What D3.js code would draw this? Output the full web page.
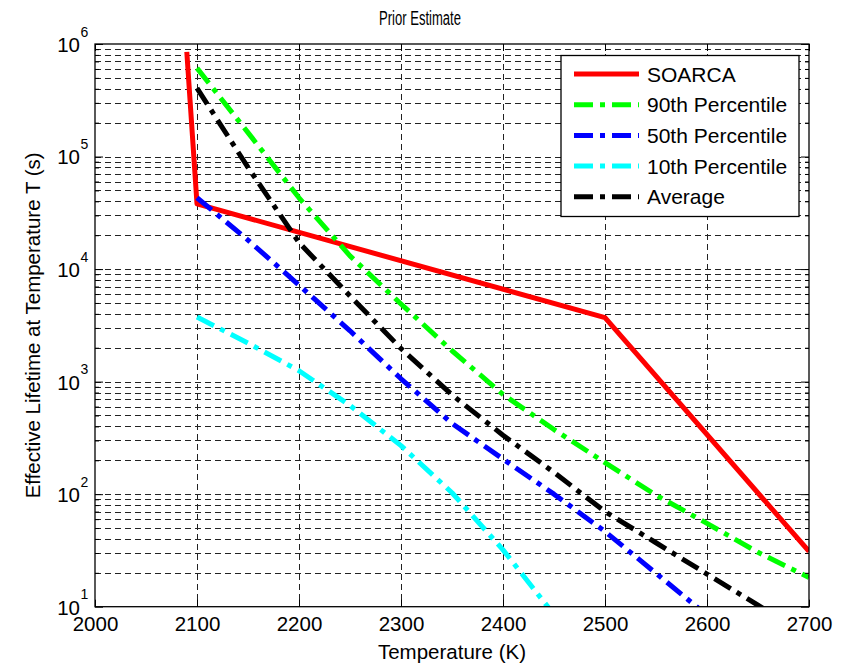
<!DOCTYPE html>
<html><head><meta charset="utf-8">
<script src="https://cdn.jsdelivr.net/npm/d3@7"></script>
<style>
body{margin:0;background:#fff;}
svg{display:block;font-family:"Liberation Sans",Arial,sans-serif;}
</style></head>
<body><svg id="c" width="841" height="667"></svg>
<script>
// ---- data ----
const xTicks = [2000, 2100, 2200, 2300, 2400, 2500, 2600, 2700];
const yExponents = [1, 2, 3, 4, 5, 6];
const soarcaT = [2090, 2100, 2500, 2700];
const soarcaV = [8.5e5, 3.8e4, 3.7e3, 31];
const pctT = [2100, 2150, 2200, 2250, 2300, 2350, 2400, 2450, 2500, 2550, 2600, 2650, 2700];
const p90 = [6.1e5, 1.63e5, 4.3e4, 1.31e4, 4.9e3, 1.88e3, 770, 375, 191, 98, 55, 30.4, 18.2];
const p50 = [4.3e4, 1.81e4, 7.2e3, 2.83e3, 1.06e3, 425, 205, 100, 46.6, 19.8, 8.4];
const p10 = [3750, 2200, 1250, 614, 270, 103, 32, 8.5];
const avg = [4.06e5, 8.0e4, 1.72e4, 5.77e3, 1.97e3, 762, 334, 156, 70, 37, 19.5, 10.3, 5.5];
const seriesNames = ["SOARCA", "90th Percentile", "50th Percentile", "10th Percentile", "Average"];
const seriesColors = ["#ff0000", "#00ff00", "#0000ff", "#00ffff", "#000000"];

// ---- layout ----
const L = 95, R = 809, T = 44, B = 606.7;
const svg = d3.select("#c");
const x = d3.scaleLinear().domain([2000, 2700]).range([L, R]);
const y = d3.scaleLog().domain([10, 1e6]).range([B, T]);

const minorY = [];
for (let e = 1; e < 6; e++) for (let m = 2; m <= 9; m++) minorY.push(m * Math.pow(10, e));
const majorY = yExponents.map(e => Math.pow(10, e));

// grid
const grid = svg.append("g").attr("stroke", "#222").attr("stroke-width", 1).attr("stroke-dasharray", "6,4").attr("fill", "none");
grid.selectAll(".gy").data(majorY.concat(minorY).filter(v => v > 10 && v < 1e6)).join("line")
  .attr("x1", L).attr("x2", R).attr("y1", d => Math.round(y(d)) + 0.5).attr("y2", d => Math.round(y(d)) + 0.5);
grid.selectAll(".gx").data(xTicks.slice(1, -1)).join("line")
  .attr("y1", T).attr("y2", B).attr("x1", d => Math.round(x(d)) + 0.5).attr("x2", d => Math.round(x(d)) + 0.5);

// lines
const clip = svg.append("clipPath").attr("id", "pc").append("rect")
  .attr("x", L).attr("y", T).attr("width", R - L).attr("height", B - T);
const lineGen = d3.line().x(d => x(d[0])).y(d => y(d[1]));
const plot = svg.append("g").attr("clip-path", "url(#pc)").attr("fill", "none").attr("stroke-linejoin", "round");
const dashDot = "19,7,5,7";
const seriesData = [
  soarcaT.map((t, i) => [t, soarcaV[i]]),
  p90.map((v, i) => [pctT[i], v]),
  p50.map((v, i) => [pctT[i], v]),
  p10.map((v, i) => [pctT[i], v]),
  avg.map((v, i) => [pctT[i], v])
];
seriesData.forEach((d, i) => {
  plot.append("path").attr("d", lineGen(d)).attr("stroke", seriesColors[i])
    .attr("stroke-width", 5)
    .attr("stroke-dasharray", i === 0 ? null : dashDot);
});

// axes
function styleAxis(g) {
  g.select(".domain").remove();
  g.selectAll(".tick line").attr("stroke", "#000");
  g.selectAll("text").attr("font-size", "20.5px").attr("fill", "#000").attr("font-family", "Liberation Sans, Arial, sans-serif");
}
svg.append("g").attr("transform", `translate(0,${B})`)
  .call(d3.axisBottom(x).tickValues(xTicks).tickFormat(d3.format("d")).tickSizeInner(-7).tickSizeOuter(0).tickPadding(10))
  .call(styleAxis);
svg.append("g").attr("transform", `translate(0,${T})`)
  .call(d3.axisTop(x).tickValues(xTicks).tickFormat("").tickSizeInner(-7).tickSizeOuter(0))
  .call(styleAxis);
const yl = svg.append("g").attr("transform", `translate(${L},0)`)
  .call(d3.axisLeft(y).tickValues(majorY).tickFormat("").tickSizeInner(-8).tickSizeOuter(0))
  .call(styleAxis);
svg.append("g").attr("transform", `translate(${L},0)`)
  .call(d3.axisLeft(y).tickValues(minorY).tickFormat("").tickSizeInner(-4).tickSizeOuter(0))
  .call(styleAxis);
svg.append("g").attr("transform", `translate(${R},0)`)
  .call(d3.axisRight(y).tickValues(majorY).tickFormat("").tickSizeInner(-8).tickSizeOuter(0))
  .call(styleAxis);
svg.append("g").attr("transform", `translate(${R},0)`)
  .call(d3.axisRight(y).tickValues(minorY).tickFormat("").tickSizeInner(-4).tickSizeOuter(0))
  .call(styleAxis);
yl.selectAll(".tick").each(function(d) {
  const g = d3.select(this);
  const e = Math.round(Math.log10(d));
  g.append("text").attr("x", -15).attr("dy", "0.36em").attr("text-anchor", "end")
    .attr("font-size", "20.5px").attr("fill", "#000").text("10");
  g.append("text").attr("x", -14.5).attr("y", -13).attr("dy", "0.36em").attr("text-anchor", "start")
    .attr("font-size", "14px").attr("fill", "#000").text(e);
});

// box
svg.append("rect").attr("x", L).attr("y", T).attr("width", R - L).attr("height", B - T)
  .attr("fill", "none").attr("stroke", "#000").attr("stroke-width", 1.3);

// labels
svg.append("text").attr("x", 420).attr("y", 25).attr("text-anchor", "middle")
  .attr("font-size", "20px").attr("fill", "#000")
  .attr("textLength", 82).attr("lengthAdjust", "spacingAndGlyphs").text("Prior Estimate");
svg.append("text").attr("x", (L + R) / 2).attr("y", 659).attr("text-anchor", "middle")
  .attr("font-size", "20.5px").attr("fill", "#000").text("Temperature (K)");
svg.append("text").attr("transform", `translate(40,${(T + B) / 2}) rotate(-90)`).attr("text-anchor", "middle")
  .attr("font-size", "20.5px").attr("fill", "#000").text("Effective Lifetime at Temperature T (s)");

// legend
const lg = svg.append("g");
lg.append("rect").attr("x", 561).attr("y", 55.5).attr("width", 238).attr("height", 161)
  .attr("fill", "#fff").attr("stroke", "#000").attr("stroke-width", 1.3);
seriesNames.forEach((n, i) => {
  const yy = 74 + i * 30.7;
  lg.append("line").attr("x1", 574).attr("x2", 639).attr("y1", yy).attr("y2", yy)
    .attr("stroke", seriesColors[i]).attr("stroke-width", 5)
    .attr("stroke-dasharray", i === 0 ? null : dashDot);
  lg.append("text").attr("x", 647).attr("y", yy).attr("dy", "0.36em")
    .attr("font-size", "21px").attr("fill", "#000").text(n);
});
</script></body></html>
